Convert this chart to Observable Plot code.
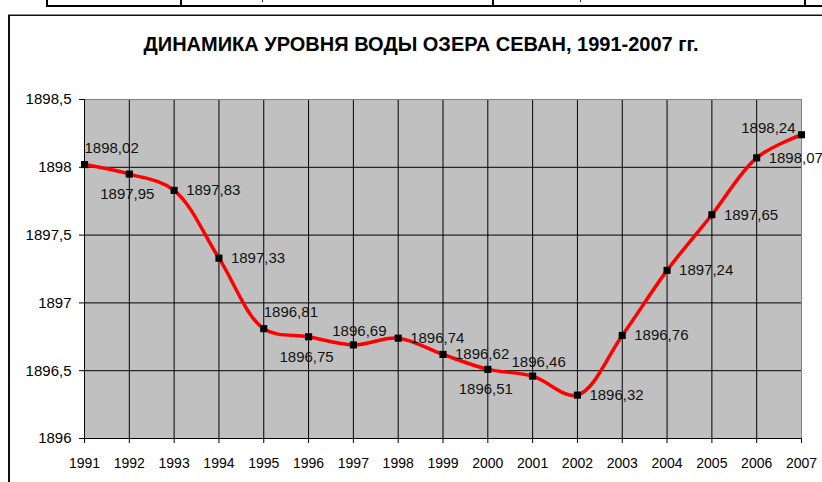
<!DOCTYPE html>
<html>
<head>
<meta charset="utf-8">
<script src="https://cdn.jsdelivr.net/npm/d3@7"></script>
<script src="https://cdn.jsdelivr.net/npm/@observablehq/plot@0.6"></script>
<style>
  html, body { margin: 0; padding: 0; background: #fff; }
  #wrap { position: relative; width: 822px; height: 482px; overflow: hidden; font-family: "Liberation Sans", Arial, sans-serif; }
  .abs { position: absolute; }
  #chart { position: absolute; left: 0; top: 0; }
</style>
</head>
<body>
<div id="wrap">
  <!-- table fragment above the chart -->
  <div class="abs" style="left:46px; top:5px; width:800px; height:2px; background:#000;"></div>
  <div class="abs" style="left:46px; top:0; width:2px; height:7px; background:#000;"></div>
  <div class="abs" style="left:180px; top:0; width:2px; height:7px; background:#000;"></div>
  <div class="abs" style="left:492px; top:0; width:2px; height:7px; background:#000;"></div>
  <div class="abs" style="left:804px; top:0; width:2px; height:7px; background:#000;"></div>
  <!-- tails of cropped commas in the table cells -->
  <div class="abs" style="left:262px; top:0; width:1px; height:2px; background:#333;"></div>
  <div class="abs" style="left:580px; top:0; width:1px; height:2px; background:#333;"></div>
  <!-- chart frame -->
  <div class="abs" style="left:8px; top:14px; width:900px; height:600px; border-top:1px solid #888; "></div>
  <div class="abs" style="left:8px; top:15px; width:900px; height:600px; border-top:1px solid #111; border-left:2px solid #111;"></div>
  <div id="title" class="abs" style="left:0; width:842px; top:34px; text-align:center; font-weight:bold; font-size:20px; line-height:20px; color:#000;">ДИНАМИКА УРОВНЯ ВОДЫ ОЗЕРА СЕВАН, 1991-2007 гг.</div>
  <div id="chart"></div>
</div>
<script>
const years = [1991, 1992, 1993, 1994, 1995, 1996, 1997, 1998, 1999, 2000, 2001, 2002, 2003, 2004, 2005, 2006, 2007];
const levels = [1898.02, 1897.95, 1897.83, 1897.33, 1896.81, 1896.75, 1896.69, 1896.74, 1896.62, 1896.51, 1896.46, 1896.32, 1896.76, 1897.24, 1897.65, 1898.07, 1898.24];
const labelPlacement = ["aboveRight", "below", "right", "right", "aboveRight", "below", "above", "right", "right", "below", "above", "right", "right", "right", "right", "right", "aboveLeft"];
const yTicks = [1896, 1896.5, 1897, 1897.5, 1898, 1898.5];
const xTicks = years;

const data = years.map((x, i) => ({x, y: levels[i], pos: labelPlacement[i]}));
const comma = d => String(d).replace(".", ",");

const placements = {
  right:      {textAnchor: "start",  dx: 12, dy: 0},
  above:      {textAnchor: "middle", dx: 6,  dy: -14},
  below:      {textAnchor: "middle", dx: -2, dy: 20},
  aboveRight: {textAnchor: "start",  dx: 0,  dy: -16},
  aboveLeft:  {textAnchor: "end",    dx: -6, dy: -7}
};

const labelMarks = Object.entries(placements).map(([key, p]) =>
  Plot.text(data.filter(d => d.pos === key), {
    x: "x", y: "y", text: d => comma(d.y),
    textAnchor: p.textAnchor, dx: p.dx, dy: p.dy,
    fontSize: 15, fill: "#111"
  })
);

const chart = Plot.plot({
  width: 822,
  height: 482,
  marginLeft: 84,
  marginRight: 21,
  marginTop: 99,
  marginBottom: 44,
  style: {background: "transparent", fontFamily: "'Liberation Sans', Arial, sans-serif", color: "#000", overflow: "visible"},
  x: {domain: [1991, 2007], ticks: xTicks},
  y: {domain: [1896, 1898.5], ticks: yTicks},
  marks: [
    Plot.frame({fill: "#c0c0c0", stroke: null}),
    Plot.gridX(xTicks.slice(1, -1), {stroke: "#000", strokeOpacity: 1, strokeWidth: 1}),
    Plot.gridY(yTicks.slice(1, -1), {stroke: "#000", strokeOpacity: 1, strokeWidth: 1}),
    Plot.ruleY([1898.5], {stroke: "#808080"}),
    Plot.ruleX([2007], {stroke: "#808080"}),
    Plot.ruleX([1991], {stroke: "#000"}),
    Plot.ruleY([1896], {stroke: "#000"}),
    Plot.axisY(yTicks, {tickSize: 5, tickPadding: 8, tickFormat: comma, fontSize: 15, label: null}),
    Plot.axisX(xTicks, {tickSize: 5, tickPadding: 15, tickFormat: d => String(d), fontSize: 14, label: null}),
    Plot.line(data, {x: "x", y: "y", stroke: "#ff0000", strokeWidth: 3.5, curve: "catmull-rom"}),
    Plot.dot(data, {x: "x", y: "y", symbol: "square", r: 4, fill: "#000", stroke: null}),
    ...labelMarks
  ]
});
document.getElementById("chart").appendChild(chart);
</script>
</body>
</html>
